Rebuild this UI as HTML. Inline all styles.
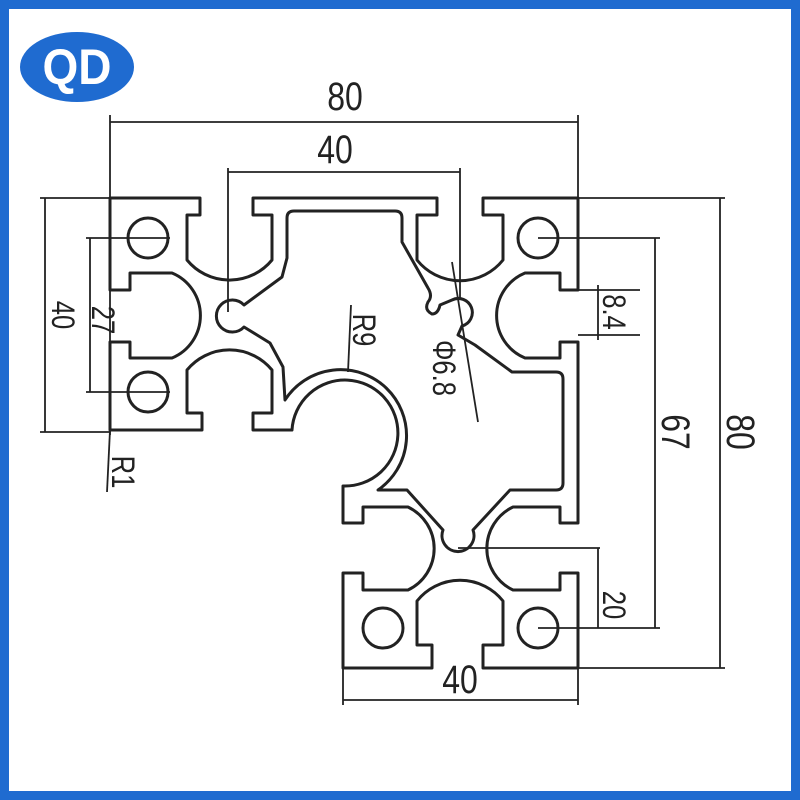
<!DOCTYPE html>
<html><head><meta charset="utf-8"><style>
html,body{margin:0;padding:0;background:#fff}
svg{display:block}
text{font-family:"Liberation Sans",sans-serif;fill:#222}
</style></head><body>
<svg width="800" height="800" viewBox="0 0 800 800">
<rect x="0" y="0" width="800" height="800" fill="#1f6bd0"/>
<rect x="9" y="9" width="782" height="782" fill="#fff"/>
<ellipse cx="77" cy="67" rx="57" ry="35" fill="#1f6bd0"/>
<text x="77" y="84" text-anchor="middle" font-size="50" font-weight="bold" style="fill:#fff" transform="translate(77 0) scale(0.92 1) translate(-77 0)">QD</text>

<g fill="none" stroke="#222" stroke-width="3" stroke-linejoin="round">
<path d="M110,198 H200 V215 H187 V260 A55 55 0 0 0 272 260 V215 H253 V198 H437 V215 H417 V260 A55 55 0 0 0 503 260 V215 H483 V198 H578 V290 H560 V273 H525 A46 46 0 0 0 525 358 H560 V342 H578 V523 H560 V507 H513 A46 46 0 0 0 513 590 H560 V573 H578 V668 H483 V645 H503 V601 A55 55 0 0 0 417 601 V645 H432 V668 H343 V573 H363 V590 H408 A46 46 0 0 0 408 507 H363 V523 H343 V486 A53 53 0 1 0 292 430 H253 V413 H272 V370 A55 55 0 0 0 187 370 V413 H202 V430 H110 V342 H130 V358 H172 A46 46 0 0 0 172 273 H130 V290 H110 Z"/>
<path d="M287,258 V218 Q287,211 294,211 H395 Q402,211 402,218 V242 L428,288 Q433,296 428,302 Q424,310 432,314 Q438,314 440,305 L452,300 A14 14 0 1 1 462,326 L458,335 L475,345 L512,372 H556 Q563,372 563,379 V483 Q563,490 556,490 H510 L473,530 A16 16 0 1 1 443,530 L407,490 H378 A66 66 0 1 0 285,400 L283,367 L270,343 L244,327 A16 16 0 1 1 244,305 L282,277 Z"/>
<circle cx="148" cy="238" r="20"/>
<circle cx="148" cy="392" r="20"/>
<circle cx="538" cy="238" r="20"/>
<circle cx="383" cy="628" r="20"/>
<circle cx="538" cy="628" r="20"/>
</g>

<g stroke="#222" stroke-width="1.8" fill="none">
<line x1="110" y1="122" x2="578" y2="122"/>
<line x1="110" y1="115" x2="110" y2="435"/>
<line x1="578" y1="115" x2="578" y2="198"/>
<line x1="228" y1="172" x2="460" y2="172"/>
<line x1="228" y1="168" x2="228" y2="312"/>
<line x1="460" y1="168" x2="460" y2="300"/>
<line x1="45" y1="198" x2="45" y2="432"/>
<line x1="40" y1="198" x2="110" y2="198"/>
<line x1="40" y1="432" x2="110" y2="432"/>
<line x1="90" y1="238" x2="90" y2="392"/>
<line x1="86" y1="238" x2="170" y2="238"/>
<line x1="86" y1="392" x2="170" y2="392"/>
<line x1="110" y1="430" x2="107" y2="492"/>
<line x1="720" y1="198" x2="720" y2="668"/>
<line x1="578" y1="198" x2="725" y2="198"/>
<line x1="578" y1="668" x2="725" y2="668"/>
<line x1="655" y1="238" x2="655" y2="628"/>
<line x1="538" y1="238" x2="660" y2="238"/>
<line x1="538" y1="628" x2="660" y2="628"/>
<line x1="598" y1="285" x2="598" y2="340"/>
<line x1="578" y1="290" x2="640" y2="290"/>
<line x1="578" y1="335" x2="640" y2="335"/>
<line x1="598" y1="548" x2="598" y2="628"/>
<line x1="458" y1="548" x2="600" y2="548"/>
<line x1="343" y1="700" x2="578" y2="700"/>
<line x1="343" y1="668" x2="343" y2="705"/>
<line x1="578" y1="668" x2="578" y2="705"/>
<line x1="351" y1="305" x2="348" y2="372"/>
<line x1="452" y1="262" x2="478" y2="422"/>
</g>

<g font-size="40">
<text x="345" y="110" text-anchor="middle" transform="translate(345 0) scale(0.8 1) translate(-345 0)">80</text>
<text x="335" y="163" text-anchor="middle" transform="translate(335 0) scale(0.8 1) translate(-335 0)">40</text>
<text x="460" y="693" text-anchor="middle" transform="translate(460 0) scale(0.8 1) translate(-460 0)">40</text>
</g>
<g font-size="32">
<text transform="translate(52 315) rotate(90) scale(0.8 1)" text-anchor="middle">40</text>
<text transform="translate(92 320) rotate(90) scale(0.8 1)" text-anchor="middle">27</text>
<text transform="translate(112 472) rotate(90) scale(0.8 1)" text-anchor="middle">R1</text>
<text transform="translate(353 330) rotate(90) scale(0.8 1)" text-anchor="middle">R9</text>
<text transform="translate(433 368) rotate(90) scale(0.8 1)" text-anchor="middle">Φ6.8</text>
<text transform="translate(603 312) rotate(90) scale(0.8 1)" text-anchor="middle">8.4</text>
<text transform="translate(603 605) rotate(90) scale(0.8 1)" text-anchor="middle">20</text>
</g>
<g font-size="40">
<text transform="translate(662 432) rotate(90) scale(0.8 1)" text-anchor="middle">67</text>
<text transform="translate(727 432) rotate(90) scale(0.8 1)" text-anchor="middle">80</text>
</g>
</svg>
</body></html>
